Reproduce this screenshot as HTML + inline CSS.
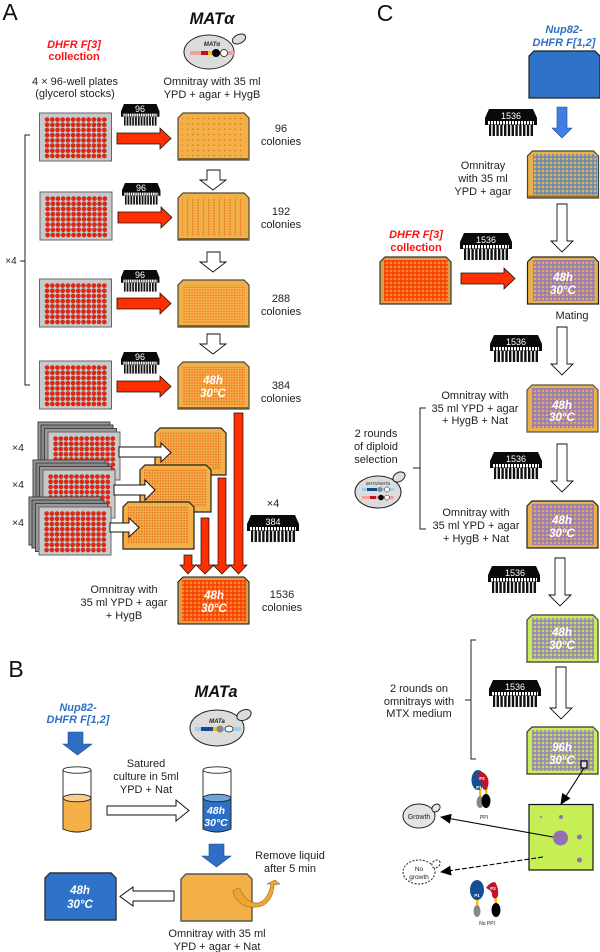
<!DOCTYPE html>
<html><head><meta charset="utf-8"><style>
html,body{margin:0;padding:0;background:#fff}
svg{display:block}
text{font-family:"Liberation Sans",sans-serif;text-anchor:middle;fill:#222;font-size:11px}
.h{font-weight:bold;font-style:italic;fill:#fff;font-size:11.5px}
.r{font-weight:bold;fill:#f11;font-size:11px}
.b{font-weight:bold;font-style:italic;fill:#2e6fc4;font-size:11px}
.m{font-weight:bold;font-style:italic;fill:#111;font-size:16.5px}
.p{font-size:23px;fill:#111}
.t{fill:#fff;font-size:9px}
</style></head><body>
<svg width="600" height="952" viewBox="0 0 600 952" xmlns="http://www.w3.org/2000/svg">
<defs>
<polygon id="tr" points="5,0 66,0 71,5 71,47 0,47 0,5"/>
<pattern id="wd" width="5.2" height="5.2" patternUnits="userSpaceOnUse" x="5" y="4"><circle cx="2.6" cy="2.6" r="2.1" fill="#f2200a" stroke="#5a0f06" stroke-width=".3"/></pattern>
<pattern id="d1" width="5.3" height="5.3" patternUnits="userSpaceOnUse"><circle cx="2" cy="2" r=".7" fill="#e85a1e"/></pattern>
<pattern id="d2" width="5.3" height="2.65" patternUnits="userSpaceOnUse"><circle cx="2" cy="1.3" r=".7" fill="#e85a1e"/></pattern>
<pattern id="d3" width="2.65" height="2.65" patternUnits="userSpaceOnUse"><circle cx="1.3" cy="1.3" r=".6" fill="#e85a1e"/></pattern>
<pattern id="d4" width="2.65" height="2.65" patternUnits="userSpaceOnUse"><circle cx="1.3" cy="1.3" r=".75" fill="#e85a1e"/></pattern>
<pattern id="pr" width="4" height="4" patternUnits="userSpaceOnUse"><rect width="4" height="4" fill="#ff8a20"/><rect width="2" height="4" fill="#f5300a" opacity=".6"/><rect width="4" height="2" fill="#f5300a" opacity=".6"/></pattern>
<pattern id="pb" width="4" height="4" patternUnits="userSpaceOnUse"><rect width="4" height="4" fill="#e5ae58"/><rect width="2" height="4" fill="#4c86cc" opacity=".62"/><rect width="4" height="2" fill="#4c86cc" opacity=".62"/></pattern>
<pattern id="pv" width="4" height="4" patternUnits="userSpaceOnUse"><rect width="4" height="4" fill="#e0a962"/><rect width="2" height="4" fill="#8f79c4" opacity=".72"/><rect width="4" height="2" fill="#8f79c4" opacity=".72"/></pattern>
<pattern id="pg" width="4" height="4" patternUnits="userSpaceOnUse"><rect width="4" height="4" fill="#bfe05a"/><rect width="2" height="4" fill="#9a7fc0" opacity=".75"/><rect width="4" height="2" fill="#9a7fc0" opacity=".75"/></pattern>
<pattern id="pin" width="3.8" height="10" patternUnits="userSpaceOnUse"><rect width="2.4" height="14" fill="#111"/></pattern>
<pattern id="dash" width="3" height="3" patternUnits="userSpaceOnUse"><rect width="2" height="3" fill="#fff"/></pattern>
<g id="tool">
<polygon points="4,0 48,0 52,9 52,16 0,16 0,9" fill="#0a0a0a"/>
<rect x="3" y="12" width="46" height="3.500" fill="url(#dash)"/>
<rect x="4" y="16" width="45" height="11" fill="url(#pin)"/>
</g>
<g id="plate">
<rect x="0" y="0" width="72" height="48" fill="#c9c9c9" stroke="#666" stroke-width="1"/>
<rect x="5" y="4" width="62.400" height="41.600" fill="url(#wd)"/>
</g>
<g id="stack">
<rect x="-10" y="-10" width="72" height="48" fill="#999" stroke="#444"/>
<rect x="-7" y="-7" width="72" height="48" fill="#888" stroke="#444"/>
<rect x="-3.500" y="-3.500" width="72" height="48" fill="#999" stroke="#444"/>
<use href="#plate"/>
</g>
<path id="ra" d="M0,5 H43 V0 L54,10.500 L43,21 V16 H0Z"/>
<marker id="ah" markerWidth="12" markerHeight="10" refX="10" refY="5" orient="auto" markerUnits="userSpaceOnUse"><path d="M0,0 L11,5 L0,10Z" fill="#000"/></marker>
</defs>

<text class="p" x="10" y="20">A</text>
<text class="p" x="16" y="677">B</text>
<text class="p" x="385" y="21">C</text>

<!-- Panel A -->
<text class="r" x="74" y="48" style="font-style:italic">DHFR F[3]</text>
<text class="r" x="74" y="60">collection</text>
<text x="75" y="85">4 × 96-well plates</text>
<text x="75" y="97">(glycerol stocks)</text>
<text class="m" x="212" y="24">MATα</text>
<ellipse cx="209" cy="52" rx="25" ry="17" fill="#dcdcdc" stroke="#222"/>
<ellipse cx="239" cy="39" rx="7" ry="4.500" transform="rotate(-25 239 39)" fill="#dcdcdc" stroke="#222"/>
<text x="212" y="46" style="font-size:6px;font-style:italic;font-weight:bold">MATα</text>
<rect x="190" y="51" width="44" height="4" fill="#f5a0a0"/><rect x="201" y="51" width="8" height="4" fill="#c1121c"/><rect x="208" y="51" width="4" height="4" fill="#f4c20d"/>
<circle cx="216" cy="53" r="4" fill="#000"/><circle cx="224" cy="53" r="3.500" fill="#fff" stroke="#111" stroke-width=".7"/>
<text x="212" y="85">Omnitray with 35 ml</text>
<text x="212" y="98">YPD + agar + HygB</text>

<use href="#plate" x="39.500" y="113"/>
<use href="#plate" x="40" y="192"/>
<use href="#plate" x="39.500" y="279"/>
<use href="#plate" x="39.500" y="361"/>

<path d="M30,135 H25 V385 H30 M25,261 H20" fill="none" stroke="#222" stroke-width="1"/>
<text x="11" y="264" style="font-size:10px">×4</text>

<g fill="#ff2f00" stroke="#111" stroke-width=".8">
<use href="#ra" x="117" y="128"/><use href="#ra" x="118" y="207"/><use href="#ra" x="117" y="293"/><use href="#ra" x="117" y="376"/>
<use href="#ra" x="461" y="268"/>
</g>
<use href="#tool" transform="translate(121,104) scale(.74,.8)"/><text class="t" x="140" y="112">96</text>
<use href="#tool" transform="translate(122,183) scale(.74,.8)"/><text class="t" x="141" y="191">96</text>
<use href="#tool" transform="translate(121,270) scale(.74,.8)"/><text class="t" x="140" y="278">96</text>
<use href="#tool" transform="translate(121,352) scale(.74,.8)"/><text class="t" x="140" y="360">96</text>

<g fill="#f3b047" stroke="#4a4a3a" stroke-width="1.200">
<use href="#tr" x="178" y="113"/><use href="#tr" x="178" y="193"/><use href="#tr" x="178" y="280"/><use href="#tr" x="178" y="362"/>
</g>
<g fill="#8a6423">
<rect x="179" y="158" width="69" height="1.500"/><rect x="179" y="238" width="69" height="1.500"/><rect x="179" y="325" width="69" height="1.500"/><rect x="179" y="407" width="69" height="1.500"/>
</g>
<rect x="182" y="118" width="63" height="38" fill="url(#d1)"/>
<rect x="182" y="198" width="63" height="38" fill="url(#d2)"/>
<rect x="182" y="285" width="63" height="38" fill="url(#d3)"/>
<rect x="182" y="367" width="63" height="38" fill="url(#d4)"/>
<text class="h" x="213" y="384">48h</text><text class="h" x="213" y="397">30°C</text>

<g fill="#fff" stroke="#111" stroke-width=".9">
<path d="M207,170 H220 V180 H226 L213,190 L200,180 H207Z"/>
<path d="M207,252 H220 V262 H226 L213,272 L200,262 H207Z"/>
<path d="M207,334 H220 V344 H226 L213,354 L200,344 H207Z"/>
</g>
<text x="281" y="132">96</text><text x="281" y="145">colonies</text>
<text x="281" y="215">192</text><text x="281" y="228">colonies</text>
<text x="281" y="302">288</text><text x="281" y="315">colonies</text>
<text x="281" y="389">384</text><text x="281" y="402">colonies</text>

<!-- stacks -->
<g fill="#f3b047" stroke="#222" stroke-width="1.200"><use href="#tr" x="155" y="428"/></g>
<rect x="159" y="432" width="62" height="38" fill="url(#d4)"/>
<use href="#stack" x="48" y="432"/>
<path d="M119,447 H161 V443 L171,452.500 L161,462 V457 H119Z" fill="#fff" stroke="#111"/>
<g fill="#f3b047" stroke="#222" stroke-width="1.200"><use href="#tr" x="140" y="465"/></g>
<rect x="144" y="469" width="62" height="38" fill="url(#d4)"/>
<use href="#stack" x="43" y="470"/>
<path d="M114,485 H145 V480 L155,490 L145,500 V495 H114Z" fill="#fff" stroke="#111"/>
<g fill="#f3b047" stroke="#222" stroke-width="1.200"><use href="#tr" x="123" y="502"/></g>
<rect x="127" y="506" width="62" height="38" fill="url(#d4)"/>
<use href="#stack" x="39" y="507"/>
<path d="M110,523 H129 V518 L139,527.500 L129,537 V532 H110Z" fill="#fff" stroke="#111"/>
<text x="18" y="451" style="font-size:10.500px">×4</text>
<text x="18" y="488" style="font-size:10.500px">×4</text>
<text x="18" y="526" style="font-size:10.500px">×4</text>

<g fill="#ff2f00" stroke="#111" stroke-width=".7">
<path d="M184,555 H192 V565 H196 L188,574 L180,565 H184Z"/>
<path d="M201,518 H209 V565 H214 L205,574 L196,565 H201Z"/>
<path d="M218,478 H226 V565 H231 L222,574 L213,565 H218Z"/>
<path d="M234,413 H243 V565 H247 L238.500,574 L230,565 H234Z"/>
</g>
<text x="273" y="507">×4</text>
<use href="#tool" x="247" y="515"/><text class="t" x="273" y="525">384</text>
<use href="#tr" x="178" y="577" fill="#d9a24a" stroke="#111" stroke-width="1"/>
<rect x="182" y="580" width="64" height="41" fill="url(#pr)"/>
<text class="h" x="214" y="599">48h</text><text class="h" x="214" y="612">30°C</text>
<text x="124" y="593">Omnitray with</text><text x="124" y="606">35 ml YPD + agar</text><text x="124" y="619">+ HygB</text>
<text x="282" y="598">1536</text><text x="282" y="611">colonies</text>

<!-- Panel B -->
<text class="b" x="78" y="711">Nup82-</text><text class="b" x="78" y="723">DHFR F[1,2]</text>
<text class="m" x="216" y="697">MATa</text>
<path d="M68,732 H83 V744 H92 L77.500,755 L63,744 H68Z" fill="#2e6fc4" stroke="#1c4a8a" stroke-width=".6"/>
<ellipse cx="217" cy="728" rx="27" ry="18" fill="#dcdcdc" stroke="#222"/>
<ellipse cx="244" cy="715" rx="7.500" ry="5" transform="rotate(-25 244 715)" fill="#dcdcdc" stroke="#222"/>
<text x="217" y="723" style="font-size:6px;font-style:italic;font-weight:bold">MATa</text>
<rect x="195" y="727" width="46" height="4" fill="#9bd0f0"/><rect x="201" y="727" width="12" height="4" fill="#124b8c"/><rect x="213" y="727" width="4" height="4" fill="#f4c20d"/>
<circle cx="220" cy="729" r="3.500" fill="#888"/><ellipse cx="229" cy="729" rx="4" ry="3" fill="#fff" stroke="#111" stroke-width=".7"/>

<!-- tubes -->
<g stroke="#222" stroke-width=".9">
<path d="M63,770 V829 Q77,835 91,829 V770" fill="#fff"/>
<ellipse cx="77" cy="770" rx="14" ry="3.200" fill="#fff"/>
<path d="M63,798 V829 Q77,835 91,829 V798Z" fill="#f3b047"/>
<ellipse cx="77" cy="798" rx="14" ry="3.800" fill="#f8cf90"/>
<path d="M203,770 V829 Q217,835 231,829 V770" fill="#fff"/>
<ellipse cx="217" cy="770" rx="14" ry="3.200" fill="#fff"/>
<path d="M203,798 V829 Q217,835 231,829 V798Z" fill="#2e6fc4"/>
<ellipse cx="217" cy="798" rx="14" ry="3.800" fill="#6fa3dc"/>
</g>
<text class="h" x="216" y="814" style="font-size:10.500px">48h</text><text class="h" x="216" y="826" style="font-size:10.500px">30°C</text>
<text x="146" y="767">Satured</text><text x="146" y="780">culture in 5ml</text><text x="146" y="793">YPD + Nat</text>
<path d="M107,806 H176 V800 L189,810.500 L176,821 V815 H107Z" fill="#fff" stroke="#111"/>
<path d="M209,844 H224 V856 H231 L216.500,867 L202,856 H209Z" fill="#2e6fc4" stroke="#1c4a8a" stroke-width=".6"/>
<use href="#tr" x="181" y="874" fill="#f3b047" stroke="#555" stroke-width="1.400"/>
<use href="#tr" x="45" y="873" fill="#2e73c8" stroke="#333" stroke-width="1.400"/>
<text class="h" x="80" y="894">48h</text><text class="h" x="80" y="908">30°C</text>
<path d="M174,891 H133 V887 L120,896.500 L133,906 V901 H174Z" fill="#fff" stroke="#111"/>
<text x="290" y="859">Remove liquid</text><text x="290" y="872">after 5 min</text>
<path d="M233,891 Q236,888 240,889 Q246,903 258,903 Q268,900 271,884 L267,884 L275,880 L280,884 L274,885 Q273,901 262,906 Q252,909 243,905 Q234,899 233,891Z" fill="#eba72e" stroke="#7a5a12" stroke-width=".5"/>
<text x="217" y="937">Omnitray with 35 ml</text><text x="217" y="950">YPD + agar + Nat</text>

<!-- Panel C -->
<text class="b" x="564" y="33">Nup82-</text><text class="b" x="564" y="46">DHFR F[1,2]</text>
<use href="#tr" x="529" y="51" fill="#2e73c8" stroke="#222" stroke-width="1.200"/>
<path d="M557,107 H567 V128 H572 L562,138 L552,128 H557Z" fill="#3d7fe6" stroke="#1c4a8a" stroke-width=".6"/>
<use href="#tool" x="485" y="109"/><text class="t" x="511" y="119">1536</text>
<use href="#tr" x="527.500" y="151" fill="#eab04a" stroke="#444" stroke-width="1.200"/>
<rect x="533" y="154" width="64" height="41" fill="url(#pb)"/>
<rect x="528.500" y="195.500" width="69.500" height="2" fill="#9a6f2a"/>
<text x="483" y="169">Omnitray</text><text x="483" y="182">with 35 ml</text><text x="483" y="195">YPD + agar</text>

<g fill="#fff" stroke="#111" stroke-width=".9">
<path d="M557,204 H567 V241 H573 L562,252 L551,241 H557Z"/>
<path d="M557,327 H567 V364 H573 L562,375 L551,364 H557Z"/>
<path d="M557,444 H567 V481 H573 L562,492 L551,481 H557Z"/>
<path d="M555,558 H565 V595 H571 L560,606 L549,595 H555Z"/>
<path d="M556,667 H566 V708 H572 L561,719 L550,708 H556Z"/>
</g>

<text class="r" x="416" y="238" style="font-style:italic">DHFR F[3]</text><text class="r" x="416" y="251">collection</text>
<use href="#tool" x="460" y="233"/><text class="t" x="486" y="243">1536</text>
<use href="#tr" x="380" y="257" fill="#d9a24a" stroke="#333" stroke-width="1.200"/>
<rect x="384" y="260" width="64" height="41" fill="url(#pr)"/>
<use href="#tr" x="527.500" y="257" fill="#eab04a" stroke="#222" stroke-width="1.200"/>
<rect x="533" y="260" width="62" height="41" fill="url(#pv)"/>
<text class="h" x="563" y="281">48h</text><text class="h" x="563" y="294">30°C</text>
<text x="572" y="319">Mating</text>

<use href="#tool" x="490" y="335"/><text class="t" x="516" y="345">1536</text>
<use href="#tr" x="527" y="385" fill="#eab04a" stroke="#555" stroke-width="1.200"/>
<rect x="532" y="388" width="62" height="40" fill="url(#pv)"/>
<text class="h" x="562" y="409">48h</text><text class="h" x="562" y="421">30°C</text>
<text x="475" y="399">Omnitray with</text><text x="475" y="412">35 ml YPD + agar</text><text x="475" y="424">+ HygB + Nat</text>

<use href="#tool" x="490" y="452"/><text class="t" x="516" y="462">1536</text>
<use href="#tr" x="527" y="501" fill="#eab04a" stroke="#222" stroke-width="1.200"/>
<rect x="532" y="504" width="62" height="41" fill="url(#pv)"/>
<text class="h" x="562" y="524">48h</text><text class="h" x="562" y="537">30°C</text>
<text x="476" y="516">Omnitray with</text><text x="476" y="529">35 ml YPD + agar</text><text x="476" y="542">+ HygB + Nat</text>

<text x="376" y="437">2 rounds</text><text x="376" y="450">of diploid</text><text x="376" y="463">selection</text>
<path d="M426,408 H420 V529 H426 M420,468 H413" fill="none" stroke="#222"/>
<ellipse cx="378" cy="492" rx="23" ry="16" fill="#dcdcdc" stroke="#222"/>
<ellipse cx="399" cy="477" rx="6.500" ry="4.500" transform="rotate(-30 399 477)" fill="#dcdcdc" stroke="#222"/>
<text x="378" y="485" style="font-size:4.500px;font-style:italic">MATα/MATa</text>
<rect x="362" y="488" width="32" height="3" fill="#9bd0f0"/><rect x="367" y="488" width="10" height="3" fill="#124b8c"/><circle cx="380" cy="489.500" r="2.500" fill="#888"/><circle cx="387" cy="489.500" r="2.500" fill="#fff" stroke="#111" stroke-width=".5"/>
<rect x="362" y="496" width="32" height="3" fill="#f5a0a0"/><rect x="370" y="496" width="6" height="3" fill="#c1121c"/><circle cx="381" cy="497.500" r="2.800" fill="#000"/><circle cx="387" cy="497.500" r="2.500" fill="#fff" stroke="#111" stroke-width=".5"/>

<use href="#tool" x="488" y="566"/><text class="t" x="515" y="576">1536</text>
<use href="#tr" x="527" y="615" fill="#c8ef58" stroke="#555" stroke-width="1.400"/>
<rect x="532" y="618" width="62" height="41" fill="url(#pg)"/>
<text class="h" x="562" y="636">48h</text><text class="h" x="562" y="649">30°C</text>

<use href="#tool" x="489" y="680"/><text class="t" x="515" y="690">1536</text>
<use href="#tr" x="527" y="727" fill="#c8ef58" stroke="#333" stroke-width="1.200"/>
<rect x="532" y="730" width="62" height="41" fill="url(#pg)"/>
<text class="h" x="562" y="751">96h</text><text class="h" x="562" y="764">30°C</text>
<rect x="581" y="761" width="6" height="7" fill="#ddd" stroke="#000" stroke-width="1.200"/>

<path d="M476,640 H471 V759 H476 M471,700 H465" fill="none" stroke="#222"/>
<text x="419" y="692">2 rounds on</text><text x="419" y="705">omnitrays with</text><text x="419" y="717">MTX medium</text>

<rect x="529" y="804.500" width="64" height="65.500" fill="#c5ef55" stroke="#111" stroke-width="1.200"/>
<circle cx="560.500" cy="838" r="7.500" fill="#9270b8"/>
<circle cx="561" cy="817" r="2" fill="#9270b8"/><circle cx="541" cy="817" r="1" fill="#9270b8"/>
<circle cx="579.500" cy="837" r="2.500" fill="#9270b8"/><circle cx="579.500" cy="860" r="2.500" fill="#9270b8"/>
<line x1="584" y1="768" x2="561" y2="804" stroke="#000" stroke-width="1.100" marker-end="url(#ah)"/>
<line x1="553" y1="837" x2="441" y2="817" stroke="#000" stroke-width="1.100" marker-end="url(#ah)"/>
<line x1="543" y1="857" x2="441" y2="872" stroke="#000" stroke-width="1.100" stroke-dasharray="5 2" marker-end="url(#ah)"/>

<ellipse cx="419" cy="816" rx="16" ry="12" fill="#e4e4e4" stroke="#222"/>
<ellipse cx="436" cy="808" rx="4.500" ry="3.500" transform="rotate(-40 436 808)" fill="#e4e4e4" stroke="#222"/>
<text x="419" y="819" style="font-size:7px">Growth</text>
<ellipse cx="419" cy="872" rx="16" ry="12" fill="#fff" stroke="#222" stroke-dasharray="2 1.500"/>
<ellipse cx="436" cy="864" rx="4.500" ry="3.500" transform="rotate(-40 436 864)" fill="#fff" stroke="#222" stroke-dasharray="2 1.500"/>
<text x="419" y="871" style="font-size:6.500px">No</text><text x="419" y="879" style="font-size:6.500px">growth</text>

<!-- PPI -->
<rect x="479" y="789" width="2.500" height="9" fill="#f4c20d"/><rect x="485" y="788" width="2.500" height="9" fill="#f4c20d"/>
<ellipse cx="478" cy="780" rx="6.500" ry="10" fill="#134f93"/>
<path d="M477,776 Q480,770 484,773 Q490,778 488,786 Q487,792 483,789 Q483,782 477,776Z" fill="#c4122a"/>
<ellipse cx="480" cy="802" rx="3.500" ry="6" fill="#888"/><ellipse cx="486" cy="801" rx="4.500" ry="7" fill="#000"/>
<text x="482" y="780" style="font-size:4.500px;fill:#fff;font-weight:bold">P2</text>
<text x="479" y="789" style="font-size:4.500px;fill:#fff;font-weight:bold">P1</text>
<text x="484" y="819" style="font-size:5px">PPI</text>

<rect x="476" y="899" width="2.500" height="7" fill="#f4c20d"/><rect x="494.500" y="898" width="2.500" height="6" fill="#f4c20d"/>
<ellipse cx="477" cy="890" rx="7" ry="10" fill="#134f93"/>
<path d="M486,888 Q490,882 495,882 Q499,888 498,896 Q495,901 492,896 Q493,891 486,888Z" fill="#c4122a"/>
<ellipse cx="477" cy="911" rx="3.500" ry="6" fill="#888"/><ellipse cx="496" cy="910" rx="4.500" ry="7" fill="#000"/>
<text x="477" y="897" style="font-size:4.500px;fill:#fff;font-weight:bold">P1</text>
<text x="493" y="890" style="font-size:4.500px;fill:#fff;font-weight:bold">P2</text>
<text x="487" y="925" style="font-size:5px">No PPI</text>
</svg>
</body></html>
